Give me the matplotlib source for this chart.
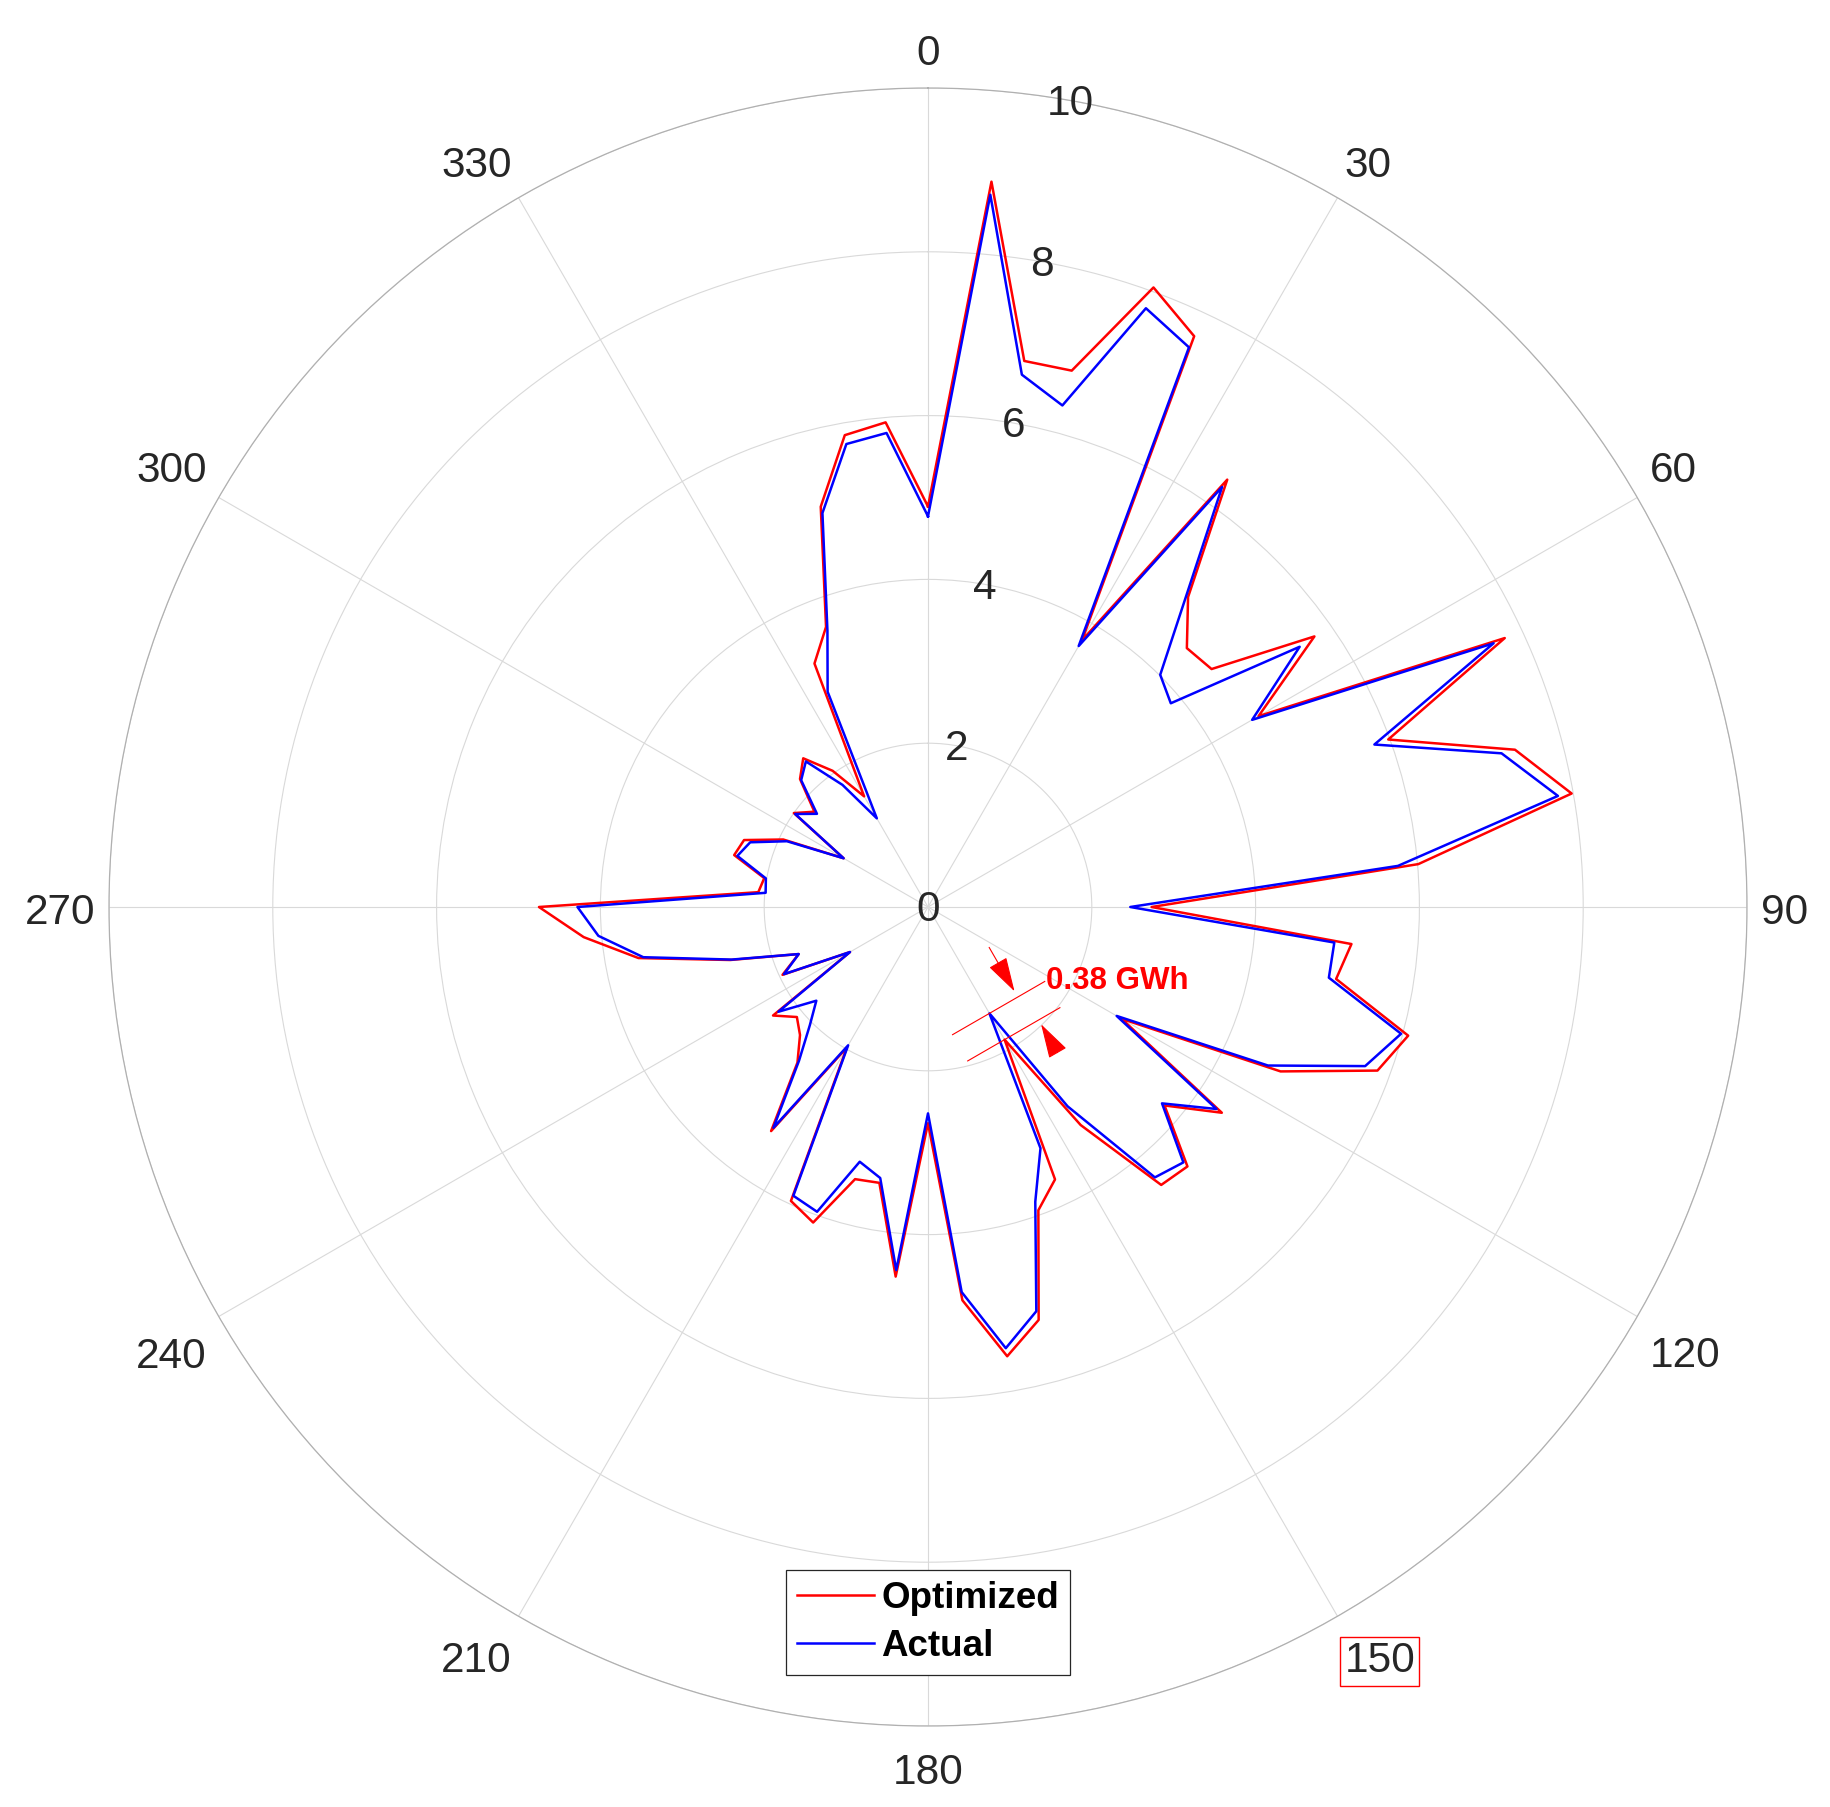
import numpy as np
import matplotlib
matplotlib.use("Agg")
import matplotlib.pyplot as plt

plt.rcParams['font.family'] = ['Liberation Sans', 'DejaVu Sans']

# data: energy per direction (GWh), one value every 5 degrees
theta_deg = np.arange(0, 360, 5)
optimized = [4.89, 8.89, 6.77, 6.78, 8.05, 7.69, 3.76, 6.37, 4.94, 4.47, 4.52, 5.76,
             4.66, 7.77, 5.98, 7.42, 7.98, 6.01, 2.73, 5.19, 5.06, 6.07, 5.84, 4.75,
             2.73, 4.38, 3.77, 4.48, 4.43, 3.25, 1.87, 3.67, 3.94, 5.22, 5.57, 4.82,
             2.64, 4.53, 3.42, 3.44, 4.10, 3.96, 1.98, 3.34, 2.48, 2.21, 2.09, 2.31,
             1.10, 1.96, 1.68, 2.50, 3.59, 4.22, 4.75, 2.08, 2.03, 2.45, 2.39, 1.95,
             1.19, 2.00, 1.81, 2.21, 2.37, 2.03, 1.56, 3.28, 3.64, 5.06, 5.85, 5.94]
actual = [4.77, 8.73, 6.60, 6.34, 7.78, 7.54, 3.68, 6.26, 4.87, 4.01, 3.87, 5.54,
          4.57, 7.62, 5.80, 7.25, 7.81, 5.76, 2.47, 4.98, 4.97, 5.98, 5.68, 4.58,
          2.66, 4.30, 3.73, 4.41, 4.31, 2.97, 1.50, 3.25, 3.83, 5.11, 5.47, 4.72,
          2.52, 4.45, 3.36, 3.22, 3.96, 3.89, 1.95, 3.29, 2.45, 2.04, 1.78, 2.23,
          1.10, 1.94, 1.68, 2.48, 3.53, 4.04, 4.28, 1.99, 2.01, 2.41, 2.31, 1.90,
          1.19, 1.98, 1.77, 2.19, 2.32, 1.82, 1.25, 2.90, 3.59, 4.98, 5.74, 5.81]
theta_ticks = np.arange(0, 360, 30)
r_ticks = [0, 2, 4, 6, 8, 10]
gap_angle = 150
gap_label = '0.38 GWh'

W, H = 1830, 1807
fig = plt.figure(figsize=(W / 100, H / 100), dpi=100)
rect = [109 / W, 81 / H, 1638 / W, 1638 / H]
ax = fig.add_axes(rect, projection='polar')
ax.set_theta_zero_location('N')
ax.set_theta_direction(-1)
ax.set_ylim(0, 10)
ax.set_xticks(np.deg2rad(theta_ticks))
ax.set_xticklabels([])
ax.set_yticks(r_ticks)
ax.set_yticklabels([])
ax.tick_params(length=0)
ax.grid(color='#d9d9d9', lw=0.8)
ax.spines['polar'].set_color('#b0b0b0')
ax.spines['polar'].set_linewidth(0.9)

th = np.deg2rad(np.append(theta_deg, theta_deg[0]))
l1, = ax.plot(th, np.append(optimized, optimized[0]), color='red', lw=1.8, label='Optimized')
l2, = ax.plot(th, np.append(actual, actual[0]), color='blue', lw=1.8, label='Actual')

# cartesian overlay (same box, data units = r) for labels and the annotation
ax2 = fig.add_axes(rect)
ax2.set_xlim(-10, 10)
ax2.set_ylim(-10, 10)
ax2.axis('off')

px = 81.9  # pixels per unit of r
fs = 30.5
txtc = '#262626'
a10 = np.deg2rad(10)
for r in r_ticks:
    ax2.text(r * np.sin(a10), r * np.cos(a10) - 0.04, str(r), fontsize=fs, color=txtc,
             ha='center', va='center')

# theta labels: anchored just outside the outer circle, aligned by quadrant
lab_r = 10 + 14 / px
drop = {'top': 13 / px, 'center': 6 / px, 'bottom': 0}
for t in theta_ticks:
    a = np.deg2rad(t)
    ux, uy = np.sin(a), np.cos(a)
    ha = 'left' if ux > 0.01 else ('right' if ux < -0.01 else 'center')
    va = 'bottom' if uy > 0.01 else ('top' if uy < -0.01 else 'center')
    kw = {}
    if t == gap_angle:
        kw['bbox'] = dict(boxstyle='square,pad=0.1', fc='none', ec='red', lw=1)
    ax2.text(lab_r * ux, lab_r * uy - drop[va], str(t), fontsize=fs, color=txtc,
             ha=ha, va=va, **kw)

# gap annotation at 150 deg
a = np.deg2rad(gap_angle)
u = np.array([np.sin(a), np.cos(a)])
v = np.array([-np.cos(a), np.sin(a)])
r_a = actual[list(theta_deg).index(gap_angle)]
r_o = optimized[list(theta_deg).index(gap_angle)]
for r in (r_a, r_o):
    p0 = r * u - 0.52 * v
    p1 = r * u + 0.78 * v
    ax2.plot([p0[0], p1[0]], [p0[1], p1[1]], color='red', lw=0.8)

aprops = dict(arrowstyle='-|>,head_length=1.1,head_width=0.32', color='red', lw=0.8,
              mutation_scale=20, shrinkA=0, shrinkB=0)
s1 = 0.80 * u + 0.4 * v
e1 = (r_a - 0.08) * u + 0.4 * v
ax2.annotate('', xy=e1, xytext=s1, arrowprops=aprops)
s2 = 2.33 * u + 0.48 * v
e2 = (r_o + 0.06) * u + 0.48 * v
ax2.annotate('', xy=e2, xytext=s2, arrowprops=aprops)
tp = r_a * u + 0.8 * v
ax2.text(tp[0], tp[1], gap_label, color='red', fontsize=22.5, fontweight='bold',
         ha='left', va='center')

leg = fig.legend(handles=[l1, l2], loc='upper left',
                 bbox_to_anchor=(785.5 / W, 1 - 1570 / H), borderaxespad=0,
                 prop={'weight': 'bold', 'size': 26.5}, fancybox=False, framealpha=1,
                 edgecolor='#262626', borderpad=0.3, labelspacing=0.36,
                 handlelength=2.1, handletextpad=0.2)
leg.get_frame().set_linewidth(0.9)

fig.savefig('out.png', dpi=100)
